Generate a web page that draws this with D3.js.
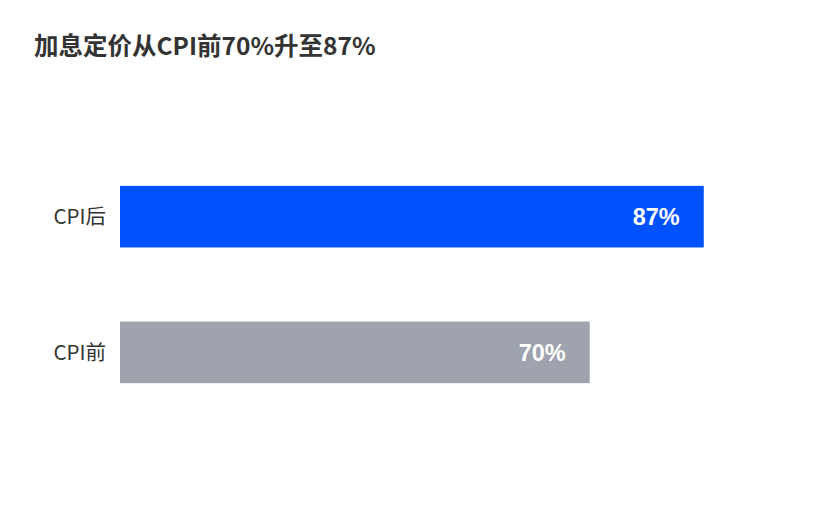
<!DOCTYPE html>
<html>
<head>
<meta charset="utf-8">
<script src="https://cdn.jsdelivr.net/npm/d3@7"></script>
<style>
  body { margin: 0; background: #fff; }
  svg { display: block; }
</style>
</head>
<body>
<div class="main"></div>
<script>
// dados
var categories = ["CPI后", "CPI前"],
    values     = [87, 70],
    colors     = ["#0052FF", "#9EA3AE"],
    title      = "加息定价从CPI前70%升至87%";

var width = 820, height = 530;

var svg = d3.select('.main')
            .append('svg')
                .attr('width', width)
                .attr('height', height);

// escalas
var x = d3.scaleLinear().domain([0, 100]).range([120, 791]);
var y = d3.scaleBand().domain(categories).range([118, 451])
            .paddingInner(0.546).paddingOuter(0.5);

// titulo
svg.append('text')
    .attr('x', 34)
    .attr('y', 55)
    .attr('font-family', '"Noto Sans CJK SC", "Noto Sans", sans-serif')
    .attr('font-weight', 'bold')
    .attr('font-size', 24.5)
    .attr('fill', '#333')
    .text(title);

// barras
svg.selectAll('rect.bar')
    .data(categories)
    .enter().append('rect')
        .attr('class', 'bar')
        .attr('x', x(0))
        .attr('y', d => y(d))
        .attr('width', (d, i) => x(values[i]) - x(0))
        .attr('height', y.bandwidth())
        .attr('fill', (d, i) => colors[i]);

// rotulos das categorias
svg.selectAll('text.cat')
    .data(categories)
    .enter().append('text')
        .attr('class', 'cat')
        .attr('x', 106)
        .attr('y', d => y(d) + y.bandwidth() / 2)
        .attr('dy', '0.35em')
        .attr('text-anchor', 'end')
        .attr('font-family', '"Noto Sans CJK SC", "Noto Sans", sans-serif')
        .attr('font-size', 20.5)
        .attr('fill', '#333')
        .text(d => d);

// valores dentro das barras
svg.selectAll('text.val')
    .data(categories)
    .enter().append('text')
        .attr('class', 'val')
        .attr('x', (d, i) => x(values[i]) - 24)
        .attr('y', d => y(d) + y.bandwidth() / 2)
        .attr('dy', '0.36em')
        .attr('text-anchor', 'end')
        .attr('font-family', '"Liberation Sans", Arial, sans-serif')
        .attr('font-weight', 'bold')
        .attr('font-size', 23.5)
        .attr('fill', '#fff')
        .text((d, i) => values[i] + '%');
</script>
</body>
</html>
